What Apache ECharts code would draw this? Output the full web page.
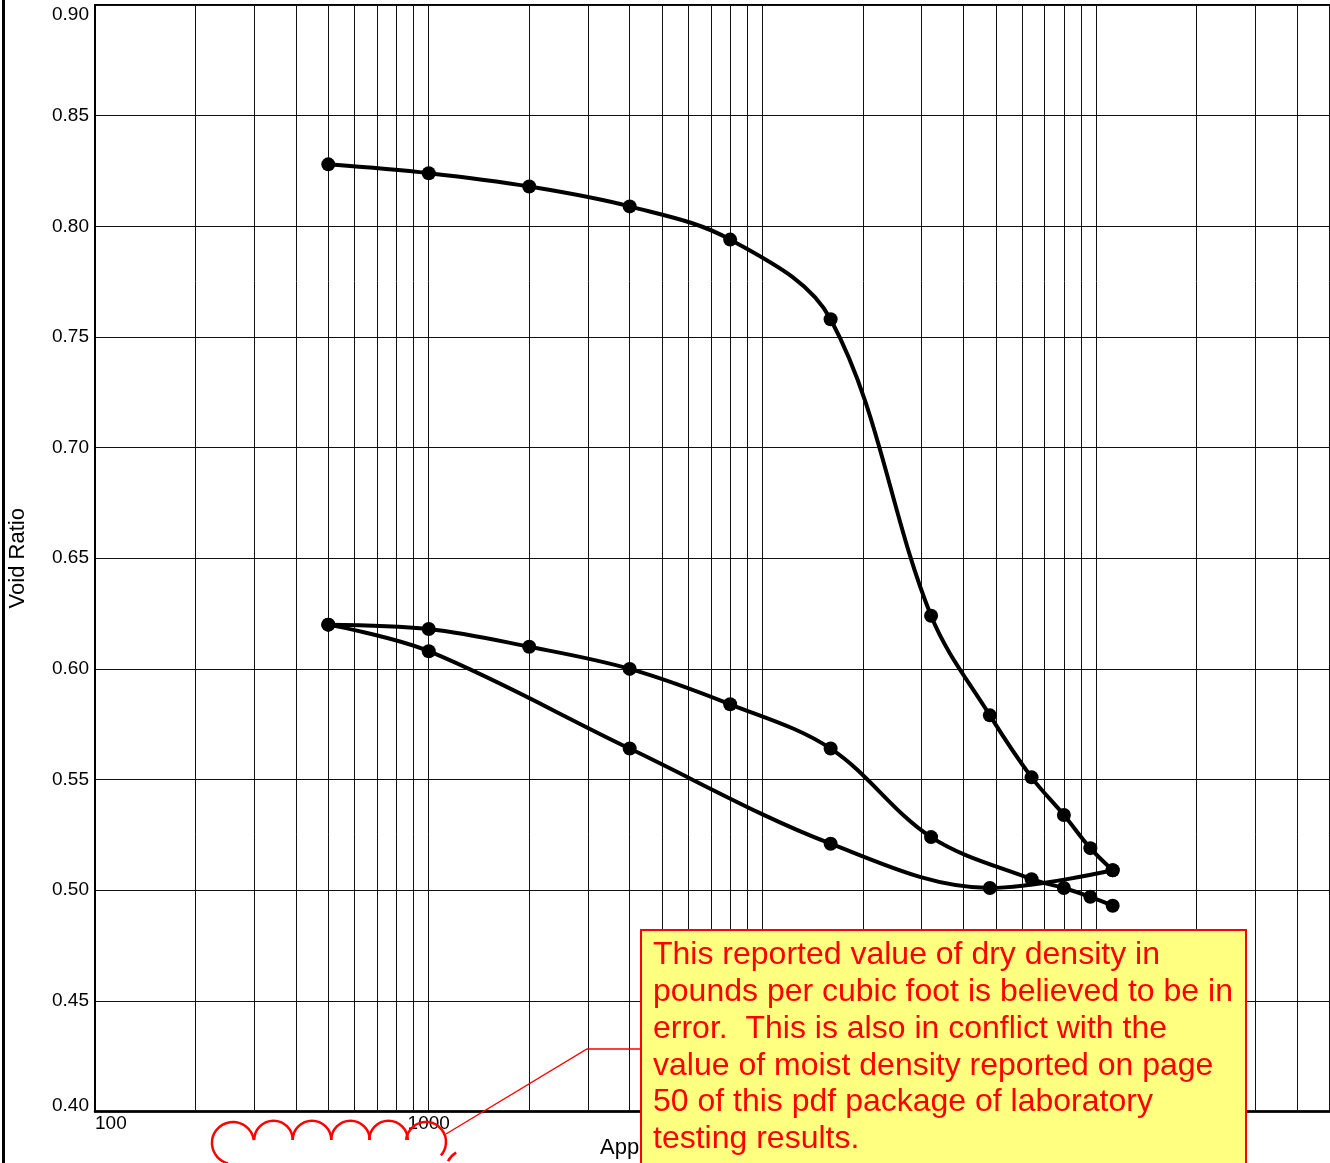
<!DOCTYPE html>
<html>
<head>
<meta charset="utf-8">
<script src="https://cdn.jsdelivr.net/npm/echarts@6/dist/echarts.min.js"></script>
<style>
html,body{margin:0;padding:0;background:#fff;}
#chart{width:1330px;height:1163px;}
</style>
</head>
<body>
<div id="chart"></div>
<script>
// Applied pressure (psf) and void ratio readings
const loadPressure = [500, 1000, 2000, 4000, 8000, 16000, 32000, 48000, 64000, 80000, 96000, 112000];
const loadVoid     = [0.828, 0.824, 0.818, 0.809, 0.794, 0.758, 0.624, 0.579, 0.551, 0.534, 0.519, 0.509];
const unloadPressure = [112000, 48000, 16000, 4000, 1000, 500];
const unloadVoid     = [0.509, 0.501, 0.521, 0.564, 0.608, 0.620];
const reloadPressure = [500, 1000, 2000, 4000, 8000, 16000, 32000, 64000, 80000, 96000, 112000];
const reloadVoid     = [0.620, 0.618, 0.610, 0.600, 0.584, 0.564, 0.524, 0.505, 0.501, 0.497, 0.493];

const yTicks = [0.40, 0.45, 0.50, 0.55, 0.60, 0.65, 0.70, 0.75, 0.80, 0.85, 0.90];
const xAxisName = 'Applied Pressure (psf)';
const yAxisName = 'Void Ratio';
const noteText = 'This reported value of dry density in\npounds per cubic foot is believed to be in\nerror.  This is also in conflict with the\nvalue of moist density reported on page\n50 of this pdf package of laboratory\ntesting results.';

const FONT = 'Liberation Sans, Arial, Helvetica, sans-serif';

// minor log grid lines (2..9 x each decade)
const minorLines = [];
for (let d = 100; d < 1000000; d *= 10) {
  for (let k = 2; k <= 9; k++) minorLines.push({ xAxis: k * d });
}

function pairs(xs, ys) { return xs.map((x, i) => [x, ys[i]]); }

const lineSeries = (name, xs, ys) => ({
  name: name,
  type: 'line',
  data: pairs(xs, ys),
  smooth: 0.35,
  symbol: 'circle',
  symbolSize: 14,
  itemStyle: { color: '#000' },
  lineStyle: { color: '#000', width: 4 },
  z: 3
});

const chart = echarts.init(document.getElementById('chart'), null, { renderer: 'canvas' });
const s0 = lineSeries('Loading', loadPressure, loadVoid);
s0.markLine = {
  silent: true,
  symbol: 'none',
  z: 1,
  label: { show: false },
  lineStyle: { color: '#111', width: 1, type: 'solid' },
  emphasis: { disabled: true },
  data: minorLines
};

const red = '#ff0000';
const cloudStyle = { fill: 'none', stroke: red, lineWidth: 2.5 };
const bumpCenters = [273.5, 312, 350.5, 388.5];
const cloud = bumpCenters.map(cx => ({
  type: 'arc', z: 60,
  shape: { cx: cx, cy: 1140, r: 19.3, startAngle: Math.PI, endAngle: 2 * Math.PI, clockwise: true },
  style: cloudStyle
}));
cloud.push({ type: 'arc', z: 60,
  shape: { cx: 233, cy: 1143, r: 21, startAngle: -0.14, endAngle: 1.816, clockwise: false },
  style: cloudStyle });
cloud.push({ type: 'arc', z: 60,
  shape: { cx: 426, cy: 1142, r: 20, startAngle: 3.246, endAngle: 7.013, clockwise: true },
  style: cloudStyle });
cloud.push({ type: 'arc', z: 60,
  shape: { cx: 466, cy: 1170, r: 20, startAngle: 3.6, endAngle: 4.2, clockwise: true },
  style: cloudStyle });

const minY = yTicks[0];

chart.setOption({
  animation: false,
  backgroundColor: '#fff',
  grid: {
    left: 95, top: 5, bottom: 51.5, right: -100,
    outerBoundsMode: 'none', containLabel: false,
    show: true, borderColor: '#000', borderWidth: 2, backgroundColor: 'transparent'
  },
  xAxis: {
    type: 'log',
    logBase: 10,
    min: 100,
    max: 1000000,
    axisLine: { show: true, lineStyle: { color: '#000', width: 2.5 } },
    axisTick: { show: false },
    splitLine: { show: true, lineStyle: { color: '#111', width: 1 } },
    axisLabel: {
      color: '#000', fontSize: 19, fontFamily: FONT, margin: 3,
      alignMinLabel: 'left',
      formatter: v => String(Math.round(v))
    }
  },
  yAxis: {
    type: 'value',
    min: yTicks[0],
    max: yTicks[yTicks.length - 1],
    interval: 0.05,
    name: yAxisName,
    nameLocation: 'middle',
    nameGap: 66,
    nameTextStyle: { color: '#000', fontSize: 22, fontFamily: FONT },
    axisLine: { show: true, lineStyle: { color: '#000', width: 2 } },
    axisTick: { show: false },
    splitLine: { show: true, lineStyle: { color: '#111', width: 1 } },
    axisLabel: {
      color: '#000', fontSize: 19, fontFamily: FONT, margin: 6,
      verticalAlignMaxLabel: 'top',
      formatter: v => Math.abs(v - minY) < 1e-6 ? '{lo|' + v.toFixed(2) + '}' : v.toFixed(2),
      rich: {
        lo: { color: '#000', fontSize: 19, fontFamily: FONT, padding: [0, 0, 11, 0] }
      }
    }
  },
  series: [
    s0,
    lineSeries('Unloading', unloadPressure, unloadVoid),
    lineSeries('Reloading', reloadPressure, reloadVoid)
  ],
  graphic: [
    { type: 'rect', z: 50, shape: { x: 2, y: 0, width: 3, height: 1163 }, style: { fill: '#000' } },
    { type: 'text', z: 50, x: 600, y: 1148,
      style: { text: xAxisName, fill: '#000', fontSize: 22, fontFamily: FONT, verticalAlign: 'middle', align: 'left' } }
  ].concat(cloud).concat([
    { type: 'polyline', z: 60, shape: { points: [[641, 1049], [587, 1049], [446, 1134]] },
      style: { fill: 'none', stroke: red, lineWidth: 1.4 } },
    { type: 'rect', z: 70, shape: { x: 641, y: 930, width: 605, height: 260 },
      style: { fill: '#ffff80', stroke: red, lineWidth: 2 } },
    { type: 'text', z: 71, x: 653, y: 937,
      style: { text: noteText, fill: red, fontSize: 32, fontFamily: FONT, lineHeight: 36.8, verticalAlign: 'top', align: 'left' } }
  ])
});
</script>
</body>
</html>
